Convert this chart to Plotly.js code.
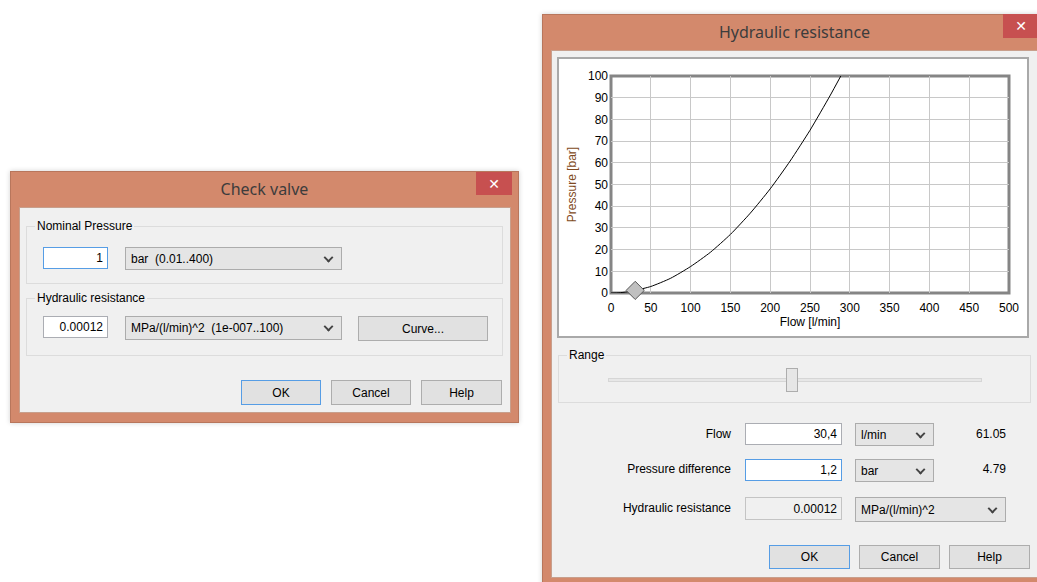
<!DOCTYPE html>
<html>
<head>
<meta charset="utf-8">
<script src="https://cdn.plot.ly/plotly-3.0.1.min.js"></script>
<style>
body{margin:0;background:#fff;width:1037px;height:582px;overflow:hidden;position:relative;font-family:'Liberation Sans',Arial,sans-serif;font-size:12px;color:#000;}
.a{position:absolute;box-sizing:border-box;}
.frame{background:#d3896c;border:1px solid #b8765c;box-shadow:0 0 5px rgba(0,0,0,0.18);}
.title{font-family:'Noto Sans',sans-serif;font-size:16px;color:#3c3c3c;text-align:center;line-height:20px;}
.close{background:#c75050;color:#fff;display:flex;align-items:center;justify-content:center;font-family:'DejaVu Sans',sans-serif;font-weight:bold;font-size:14px;}
.content{background:#f0f0f0;border:1px solid #c89f8c;}
.group{border:1px solid #dcdcdc;}
.gl{background:#f0f0f0;padding:0 2px;line-height:14px;white-space:nowrap;}
.inp{background:#fff;border:1px solid #abadb3;display:flex;align-items:center;justify-content:flex-end;padding-right:4px;white-space:nowrap;}
.inp.focus{border-color:#569de5;}
.inp.ro{background:#f0f0f0;border-color:#c4c4c4;}
.dd{background:#e5e5e5;border:1px solid #acacac;display:flex;align-items:center;padding-left:5px;white-space:nowrap;}
.dd::after{content:'';position:absolute;right:9px;top:50%;width:5px;height:5px;border-right:2px solid #444;border-bottom:2px solid #444;transform:translateY(-70%) rotate(45deg);}
.btn{background:#e1e1e1;border:1px solid #adadad;display:flex;align-items:center;justify-content:center;white-space:nowrap;}
.btn.def{border-color:#569de5;}
.lbl{white-space:nowrap;line-height:14px;}
.lblr{white-space:nowrap;line-height:14px;text-align:right;}
</style>
</head>
<body>

<!-- Left dialog: Check valve -->
<div class="a frame" style="left:10px;top:171px;width:509px;height:252px;"></div>
<div class="a title" style="left:10px;top:179px;width:509px;">Check valve</div>
<div class="a close" style="left:476px;top:172px;width:36px;height:23px;">✕</div>
<div class="a content" style="left:19px;top:207px;width:492px;height:206px;"></div>

<div class="a group" style="left:26px;top:226px;width:477px;height:58px;"></div>
<div class="a gl" style="left:35px;top:219px;">Nominal Pressure</div>
<div class="a inp focus" style="left:43px;top:247px;width:65px;height:22px;">1</div>
<div class="a dd" style="left:125px;top:247px;width:217px;height:23px;">bar&nbsp; (0.01..400)</div>

<div class="a group" style="left:26px;top:298px;width:477px;height:58px;"></div>
<div class="a gl" style="left:35px;top:291px;">Hydraulic resistance</div>
<div class="a inp" style="left:43px;top:316px;width:65px;height:22px;">0.00012</div>
<div class="a dd" style="left:125px;top:316px;width:217px;height:24px;">MPa/(l/min)^2&nbsp; (1e-007..100)</div>
<div class="a btn" style="left:358px;top:316px;width:130px;height:25px;">Curve...</div>

<div class="a btn def" style="left:241px;top:380px;width:80px;height:25px;">OK</div>
<div class="a btn" style="left:331px;top:380px;width:80px;height:25px;">Cancel</div>
<div class="a btn" style="left:421px;top:380px;width:81px;height:25px;">Help</div>

<!-- Right dialog: Hydraulic resistance -->
<div class="a frame" style="left:542px;top:14px;width:505px;height:590px;"></div>
<div class="a title" style="left:542px;top:22px;width:505px;">Hydraulic resistance</div>
<div class="a close" style="left:1003px;top:14px;width:36px;height:24px;">✕</div>
<div class="a content" style="left:551px;top:50px;width:488px;height:528px;"></div>

<div class="a" style="left:557px;top:57px;width:472px;height:281px;background:#fff;border:2px solid #a9a9a9;"></div>
<div id="chart" class="a" style="left:559px;top:59px;width:468px;height:277px;"></div>

<div class="a group" style="left:558px;top:355px;width:473px;height:48px;"></div>
<div class="a gl" style="left:567px;top:348px;">Range</div>
<div class="a" style="left:608px;top:378px;width:374px;height:4px;background:#e7e7e7;border:1px solid #d6d6d6;"></div>
<div class="a" style="left:786px;top:368px;width:12px;height:24px;background:#e6e6e6;border:1px solid #adadad;"></div>

<div class="a lblr" style="left:600px;top:427px;width:131px;">Flow</div>
<div class="a inp" style="left:745px;top:423px;width:97px;height:22px;">30,4</div>
<div class="a dd" style="left:855px;top:423px;width:79px;height:23px;">l/min</div>
<div class="a lblr" style="left:940px;top:427px;width:66px;">61.05</div>

<div class="a lblr" style="left:600px;top:462px;width:131px;">Pressure difference</div>
<div class="a inp focus" style="left:745px;top:459px;width:97px;height:22px;">1,2</div>
<div class="a dd" style="left:855px;top:459px;width:79px;height:23px;">bar</div>
<div class="a lblr" style="left:940px;top:462px;width:66px;">4.79</div>

<div class="a lblr" style="left:600px;top:501px;width:131px;">Hydraulic resistance</div>
<div class="a inp ro" style="left:745px;top:497px;width:97px;height:23px;">0.00012</div>
<div class="a dd" style="left:855px;top:497px;width:151px;height:25px;">MPa/(l/min)^2</div>

<div class="a btn def" style="left:769px;top:545px;width:81px;height:24px;">OK</div>
<div class="a btn" style="left:859px;top:545px;width:81px;height:24px;">Cancel</div>
<div class="a btn" style="left:949px;top:545px;width:81px;height:24px;">Help</div>

<script>
// Curve values
const flow = [0, 10, 20, 30.4, 50, 75, 100, 125, 150, 175, 200, 225, 250, 275, 288.7];
const pressure = [0, 0.1, 0.5, 1.2, 3.0, 6.8, 12.2, 18.8, 27.0, 36.8, 48.0, 60.8, 75.0, 90.8, 100];
// Operating point
const opFlow = [30.4];
const opPressure = [1.2];
// Tick labels
const xTicks = [0, 50, 100, 150, 200, 250, 300, 350, 400, 450, 500];
const yTicks = [0, 10, 20, 30, 40, 50, 60, 70, 80, 90, 100];

const tickFont = {family: "'Liberation Sans', Arial, sans-serif", size: 12, color: '#000'};

const traces = [
  {x: flow, y: pressure, type: 'scatter', mode: 'lines', line: {color: '#000', width: 1, shape: 'spline', smoothing: 0.6}, cliponaxis: true, hoverinfo: 'skip'},
  {x: opFlow, y: opPressure, type: 'scatter', mode: 'markers', marker: {symbol: 'diamond', size: 14, color: '#c0c0c0', line: {color: '#555', width: 1}}, cliponaxis: false, hoverinfo: 'skip'}
];

const layout = {
  width: 468, height: 277,
  margin: {l: 52, r: 18, t: 17, b: 43, pad: 0},
  paper_bgcolor: '#fff', plot_bgcolor: '#fff',
  showlegend: false,
  xaxis: {range: [0, 500], tickvals: xTicks, ticktext: xTicks.map(String), showgrid: true, gridcolor: '#c8c8c8', gridwidth: 1, zeroline: false, showline: false, ticks: '', tickfont: tickFont, ticklabelstandoff: 6,
    title: {text: 'Flow [l/min]', font: tickFont, standoff: 3}},
  yaxis: {range: [0, 100], tickvals: yTicks, ticktext: yTicks.map(String), showgrid: true, gridcolor: '#c8c8c8', gridwidth: 1, zeroline: false, showline: false, ticks: '', tickfont: tickFont, ticklabelstandoff: 2,
    title: {text: 'Pressure [bar]', font: {family: tickFont.family, size: 12, color: '#7f4a22'}, standoff: 8}},
  shapes: [{type: 'rect', xref: 'paper', yref: 'paper', x0: 0, x1: 1, y0: 0, y1: 1, line: {color: '#858585', width: 3}, layer: 'between'}]
};

Plotly.newPlot('chart', traces, layout, {staticPlot: true, displayModeBar: false});
</script>
</body>
</html>
